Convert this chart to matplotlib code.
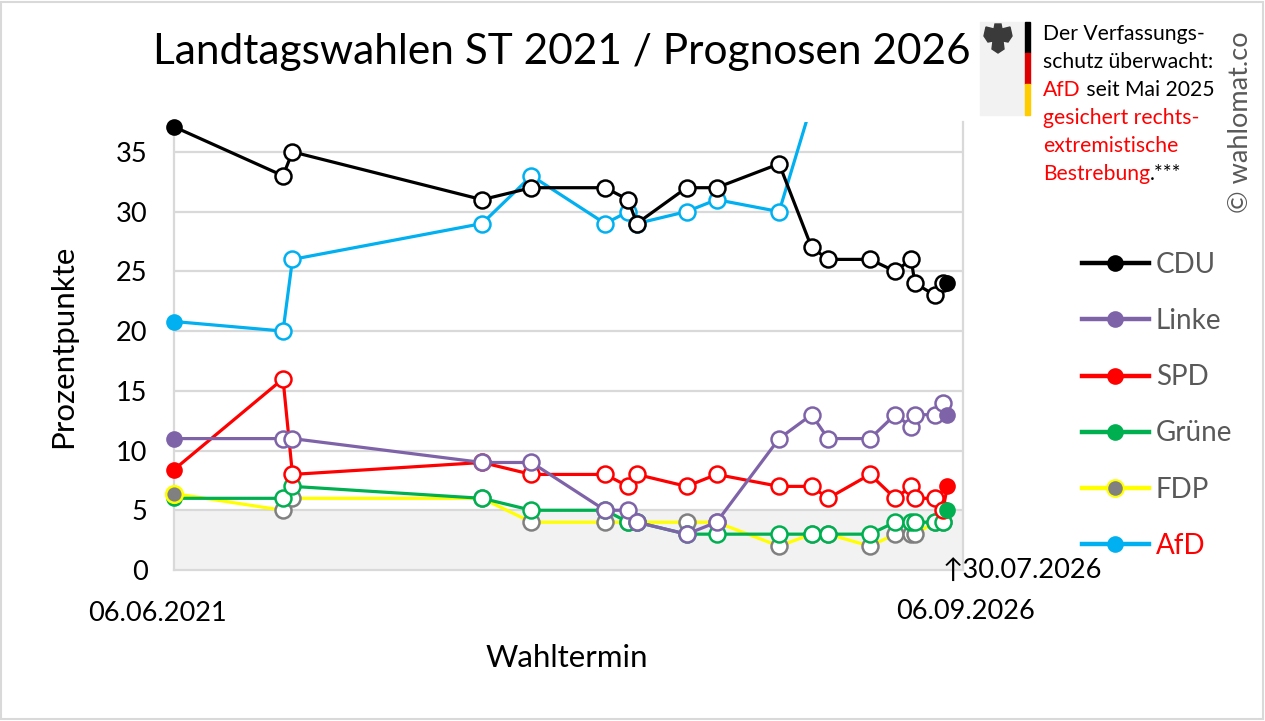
import matplotlib
matplotlib.use("Agg")
import matplotlib.pyplot as plt
from matplotlib.lines import Line2D
from matplotlib.patches import Rectangle, Polygon
import pandas as pd
import numpy as np

plt.rcParams['font.family'] = ['Lato', 'DejaVu Sans']

# ---------------- data ----------------
dates = ["2021-06-06", "2022-02-26", "2022-03-21", "2023-06-25", "2023-10-23",
         "2024-04-19", "2024-06-14", "2024-07-05", "2024-11-03", "2025-01-15",
         "2025-06-16", "2025-09-03", "2025-10-13", "2026-01-23", "2026-03-25",
         "2026-05-03", "2026-05-12", "2026-06-30", "2026-07-19", "2026-07-30"]

cdu   = [37.1, 33, 35, 31, 32, 32, 31, 29, 32, 32, 34, 27, 26, 26, 25, 26, 24, 23, 24, 24]
linke = [11.0, 11, 11, 9, 9, 5, 5, 4, 3, 4, 11, 13, 11, 11, 13, 12, 13, 13, 14, 13]
spd   = [8.4, 16, 8, 9, 8, 8, 7, 8, 7, 8, 7, 7, 6, 8, 6, 7, 6, 6, 5, 7]
gruene = [6.0, 6, 7, 6, 5, 5, 4, 4, 3, 3, 3, 3, 3, 3, 4, 4, 4, 4, 4, 5]
fdp   = [6.4, 5, 6, 6, 4, 4, 4, 4, 4, 4, 2, 3, 3, 2, 3, 3, 3, 4, 4, None]
afd   = [20.8, 20, 26, 29, 33, 29, 30, 29, 30, 31, 30, 39, 39, 40, 39, 40, 39, 40, 40, 39]

parties = ["CDU", "Linke", "SPD", "Grüne", "FDP", "AfD"]
start_date, end_date = "2021-06-06", "2026-09-06"
latest_label = "30.07.2026"
yticks = [0, 5, 10, 15, 20, 25, 30, 35]

# ---------------- styles ----------------
W, H = 1265, 721
DPI = 100
fig = plt.figure(figsize=(W / DPI, H / DPI), dpi=DPI)
fig.patch.set_facecolor("white")

L, R, B, T = 174, 963, 570, 122
ax = fig.add_axes([L / W, 1 - B / H, (R - L) / W, (B - T) / H])

x = pd.to_datetime(dates)
x_start, x_end = pd.to_datetime(start_date), pd.to_datetime(end_date)
YMAX = 37.5

series = {
    "CDU":   dict(vals=cdu,    line="#000000", edge="#000000", face="#000000", z=6),
    "Linke": dict(vals=linke,  line="#7F63A8", edge="#7F63A8", face="#7F63A8", z=4),
    "SPD":   dict(vals=spd,    line="#FF0000", edge="#FF0000", face="#FF0000", z=3),
    "Grüne": dict(vals=gruene, line="#00B050", edge="#00B050", face="#00B050", z=2),
    "FDP":   dict(vals=fdp,    line="#FFFF00", edge="#808080", face="#808080", z=1),
    "AfD":   dict(vals=afd,    line="#00B0F0", edge="#00B0F0", face="#00B0F0", z=5),
}

ax.set_xlim(x_start, x_end)
ax.set_ylim(0, YMAX)

# shaded region below 5 %
ax.axhspan(0, 5, color="#F2F2F2", zorder=0)
for yv in yticks[1:]:
    ax.axhline(yv, color="#D9D9D9", lw=1.6, zorder=0.5)

for name in parties:
    s = series[name]
    v = np.array([np.nan if a is None else a for a in s["vals"]], dtype=float)
    ax.plot(x, v, color=s["line"], lw=2.3, zorder=s["z"], solid_capstyle="round")
    ax.plot(x[1:-1], v[1:-1], ls="none", marker="o", ms=11.5, mfc="white",
            mec=s["edge"], mew=1.8, zorder=s["z"] + 0.1)

# filled markers for election result and latest poll
for name in ["AfD", "CDU", "Linke", "SPD", "Grüne", "FDP"]:
    s = series[name]
    v = np.array([np.nan if a is None else a for a in s["vals"]], dtype=float)
    ends = np.array([v[0], v[-1]])
    ends[ends > YMAX] = np.nan
    ec = "#FFFF00" if name == "FDP" else s["face"]
    ax.plot([x[0], x[-1]], ends, ls="none", marker="o", ms=12,
            mfc=s["face"], mec=ec, mew=1.8 if name == "FDP" else 0,
            zorder=10 + parties.index(name) * 0.1, clip_on=False)

ax.spines["top"].set_visible(False)
for sp in ["left", "right", "bottom"]:
    ax.spines[sp].set_color("#D9D9D9")
    ax.spines[sp].set_linewidth(1.6)

ax.set_yticks(yticks)
ax.set_yticklabels([str(t) for t in yticks], fontsize=19.5, color="#000000")
ax.tick_params(axis="y", length=0, pad=19)
ax.set_xticks([])

ax.set_ylabel("Prozentpunkte", fontsize=22.5)
ax.yaxis.set_label_coords(-97 / (R - L), 0.5)

# date labels
ax.annotate("06.06.2021", xy=(x_start, 0), xycoords=("data", "axes fraction"),
            xytext=(-12, -31), textcoords="offset points", ha="center", va="center",
            fontsize=19.5)
ax.annotate("06.09.2026", xy=(x_end, 0), xycoords=("data", "axes fraction"),
            xytext=(1.5, -30), textcoords="offset points", ha="center", va="center",
            fontsize=19.5)
ax.annotate("↑" + latest_label, xy=(x[-1], 0), xycoords=("data", "axes fraction"),
            xytext=(-3.5, 0), textcoords="offset points", ha="left", va="center",
            fontsize=19.5, family=["Lato", "DejaVu Sans"])

fig.text(567 / W, 1 - 658 / H, "Wahltermin", ha="center", va="center", fontsize=22.5)
fig.text(562 / W, 1 - 52 / H, "Landtagswahlen ST 2021 / Prognosen 2026",
         ha="center", va="center", fontsize=30.5)

# legend
handles = []
for name in parties:
    s = series[name]
    handles.append(Line2D([0], [0], color=s["line"], lw=3.2, marker="o", ms=12,
                          mfc=s["face"], mec="#FFFF00" if name == "FDP" else s["face"],
                          mew=1.5 if name == "FDP" else 0))
leg = fig.legend(handles, parties, loc="upper left",
                 bbox_to_anchor=(1082 / W, 1 - 252 / H), frameon=False,
                 fontsize=20, handlelength=2.4, handletextpad=0.25,
                 labelspacing=1.085, borderaxespad=0, borderpad=0)
for txt in leg.get_texts():
    txt.set_color("#FF0000" if txt.get_text() == "AfD" else "#595959")

# Verfassungsschutz note
fig.patches.append(Rectangle((980 / W, 1 - 115 / H), 47 / W, 93 / H,
                             transform=fig.transFigure, color="#F2F2F2", zorder=0))
for i, c in enumerate(["#000000", "#DD0000", "#FFCC00"]):
    fig.patches.append(Rectangle((1025 / W, 1 - (22 + 31 * (i + 1)) / H), 5 / W, 31 / H,
                                 transform=fig.transFigure, color=c, zorder=1))
eagle_px = [(995, 24), (1001, 24), (1002, 29), (1010, 27), (1012, 36), (1008, 42),
            (1003, 41), (1004, 49), (998, 53), (992, 49), (993, 41), (988, 42),
            (984, 36), (986, 27), (994, 29)]
fig.patches.append(Polygon([(px / W, 1 - py / H) for px, py in eagle_px], closed=True,
                           transform=fig.transFigure, color="#3A3A3A", zorder=2))

tx = 1043 / W
fs = 15.2
fig.text(tx, 1 - 34 / H, "Der Verfassungs-", fontsize=fs, va="center")
fig.text(tx, 1 - 62 / H, "schutz überwacht:", fontsize=fs, va="center")
t = fig.text(tx, 1 - 90 / H, "AfD", fontsize=fs, va="center", color="#FF0000")
fig.canvas.draw()
rend = fig.canvas.get_renderer()
bb = t.get_window_extent(rend)
fig.text((bb.x1) / W, 1 - 90 / H, " seit Mai 2025", fontsize=fs, va="center")
fig.text(tx, 1 - 118 / H, "gesichert rechts-", fontsize=fs, va="center", color="#FF0000")
fig.text(tx, 1 - 146 / H, "extremistische", fontsize=fs, va="center", color="#FF0000")
t2 = fig.text(tx, 1 - 174 / H, "Bestrebung", fontsize=fs, va="center", color="#FF0000")
bb2 = t2.get_window_extent(rend)
fig.text(bb2.x1 / W, 1 - 174 / H, ".***", fontsize=fs, va="center")

fig.text(1240 / W, 1 - 122 / H, "© wahlomat.co", rotation=90, ha="center", va="center",
         fontsize=19.5, color="#595959")

# outer frame
fig.patches.append(Rectangle((1 / W, 2 / H), (W - 3) / W, (H - 4) / H,
                             transform=fig.transFigure, fill=False,
                             edgecolor="#D9D9D9", lw=1.5, zorder=0))

fig.savefig("out.png", dpi=DPI)
